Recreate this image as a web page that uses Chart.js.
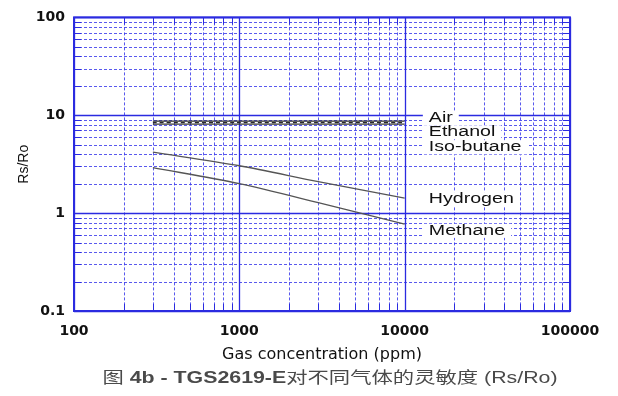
<!DOCTYPE html>
<html>
<head>
<meta charset="utf-8">
<script src="https://cdn.jsdelivr.net/npm/chart.js@4"></script>
<style>
  html, body { margin: 0; padding: 0; background: #fff; }
  #wrap { width: 618px; height: 396px; }
</style>
</head>
<body>
<div id="wrap"><canvas id="chart" width="618" height="396"></canvas></div>
<script>
/* ---- Data ---- */
const concentrations = [300, 1000, 3000, 10000];
const airRs       = [8.7, 8.7, 8.7, 8.7];
const ethanolRs   = [8.4, 8.4, 8.4, 8.4];
const isoButaneRs = [8.1, 8.1, 8.1, 8.1];
const hydrogenRs  = [4.2, 3.05, 2.1, 1.42];
const methaneRs   = [2.92, 2.0, 1.28, 0.77];

const gasNames   = ['Air', 'Ethanol', 'Iso-butane', 'Hydrogen', 'Methane'];
const labelRs    = [9.3, 6.7, 4.7, 1.39, 0.66];   // where each name sits on the y axis
const labelConc  = 14000;

const xTickLabels = [100, 1000, 10000, 100000];
const yTickLabels = [0.1, 1, 10, 100];

// caption pieces: [text, bold]
const captionParts = [['图 ', false], ['4b - TGS2619-E', true], ['对不同气体的灵敏度 ', false], ['(Rs/Ro)', false]];

const BLUE = '#2b2be0';
const FONT = "'Liberation Sans', Arial, sans-serif";
const WIDE = "'DejaVu Sans', sans-serif";

const toPoints = ys => concentrations.map((c, i) => ({ x: c, y: ys[i] }));

/* ---- Log grid: solid decades, dotted minors, short ticks on the frame ---- */
const logGrid = {
  id: 'logGrid',
  beforeDatasetsDraw(chart) {
    const { ctx, chartArea: a, scales: { x, y } } = chart;
    ctx.save();
    const steps = (scale) => {
      const out = [];
      const d0 = Math.round(Math.log10(scale.min));
      const d1 = Math.round(Math.log10(scale.max));
      for (let d = d0; d < d1; d++) {
        for (let m = 1; m <= 9; m++) out.push({ v: m * Math.pow(10, d), major: m === 1 });
      }
      out.push({ v: Math.pow(10, d1), major: true });
      return out;
    };
    const xs = steps(x), ys = steps(y);

    // dotted minors
    ctx.strokeStyle = 'rgba(60,60,235,0.85)';
    ctx.lineWidth = 1;
    ctx.setLineDash([3, 2]);
    xs.filter(t => !t.major).forEach(t => {
      const px = Math.round(x.getPixelForValue(t.v)) + 0.5;
      ctx.beginPath(); ctx.moveTo(px, a.top); ctx.lineTo(px, a.bottom); ctx.stroke();
    });
    ys.filter(t => !t.major).forEach(t => {
      const py = Math.round(y.getPixelForValue(t.v)) + 0.5;
      ctx.beginPath(); ctx.moveTo(a.left, py); ctx.lineTo(a.right, py); ctx.stroke();
    });

    // solid minor ticks on the frame
    ctx.setLineDash([]);
    ctx.strokeStyle = BLUE;
    const tl = 7;
    xs.filter(t => !t.major).forEach(t => {
      const px = Math.round(x.getPixelForValue(t.v)) + 0.5;
      ctx.beginPath();
      ctx.moveTo(px, a.bottom); ctx.lineTo(px, a.bottom - tl);
      ctx.moveTo(px, a.top); ctx.lineTo(px, a.top + tl);
      ctx.stroke();
    });
    ys.filter(t => !t.major).forEach(t => {
      const py = Math.round(y.getPixelForValue(t.v)) + 0.5;
      ctx.beginPath();
      ctx.moveTo(a.left, py); ctx.lineTo(a.left + tl, py);
      ctx.moveTo(a.right, py); ctx.lineTo(a.right - tl, py);
      ctx.stroke();
    });

    // solid decades
    ctx.lineWidth = 1.3;
    xs.filter(t => t.major).forEach(t => {
      const px = Math.round(x.getPixelForValue(t.v)) + 0.5;
      ctx.beginPath(); ctx.moveTo(px, a.top); ctx.lineTo(px, a.bottom); ctx.stroke();
    });
    ys.filter(t => t.major).forEach(t => {
      const py = Math.round(y.getPixelForValue(t.v)) + 0.5;
      ctx.beginPath(); ctx.moveTo(a.left, py); ctx.lineTo(a.right, py); ctx.stroke();
    });

    // frame
    ctx.lineWidth = 2;
    ctx.strokeRect(a.left, a.top, a.right - a.left, a.bottom - a.top);
    ctx.restore();
  }
};

/* ---- Gas names with white boxes behind (text is stretched wide like the scan) ---- */
const STRETCH = 1.4;
const gasLabels = {
  id: 'gasLabels',
  afterDatasetsDraw(chart) {
    const { ctx, scales: { x, y } } = chart;
    ctx.save();
    ctx.font = '14px ' + FONT;
    ctx.textBaseline = 'middle';
    ctx.textAlign = 'left';
    gasNames.forEach((name, i) => {
      const px = x.getPixelForValue(labelConc);
      const py = y.getPixelForValue(labelRs[i]);
      const w = ctx.measureText(name).width * STRETCH;
      ctx.fillStyle = '#fff';
      ctx.fillRect(px - 6, py - 7, w + 12, 14);
      ctx.save();
      ctx.translate(px, py);
      ctx.scale(STRETCH, 1);
      ctx.fillStyle = '#111';
      ctx.fillText(name, 0, 0);
      ctx.restore();
    });
    ctx.restore();
  }
};

/* ---- Figure caption under the axis title ---- */
const caption = {
  id: 'caption',
  afterDraw(chart) {
    const { ctx } = chart;
    const fam = "'Liberation Sans', 'Noto Sans CJK SC', sans-serif";
    const fontOf = bold => (bold ? 'bold ' : '') + '16px ' + fam;
    ctx.save();
    let total = 0;
    captionParts.forEach(([t, b]) => { ctx.font = fontOf(b); total += ctx.measureText(t).width; });
    const targetW = 455, cx = 330, cy = 379;
    const k = targetW / total;
    ctx.translate(cx - targetW / 2, cy);
    ctx.scale(k, 1);
    ctx.textBaseline = 'middle';
    ctx.fillStyle = '#4a4a4a';
    let xx = 0;
    captionParts.forEach(([t, b]) => {
      ctx.font = fontOf(b);
      ctx.fillText(t, xx, 0);
      xx += ctx.measureText(t).width;
    });
    ctx.restore();
  }
};

const lineStyle = (color, dash) => ({
  borderColor: color,
  borderWidth: 1.3,
  borderDash: dash || [],
  pointRadius: 0,
  fill: false,
  tension: 0.3,
});

new Chart(document.getElementById('chart'), {
  type: 'line',
  data: {
    datasets: [
      { label: 'Air',        data: toPoints(airRs),       ...lineStyle('#2a2a2a') },
      { label: 'Ethanol',    data: toPoints(ethanolRs),   ...lineStyle('#2a2a2a', [4, 3]) },
      { label: 'Iso-butane', data: toPoints(isoButaneRs), ...lineStyle('#3a3a3a') },
      { label: 'Hydrogen',   data: toPoints(hydrogenRs),  ...lineStyle('#555') },
      { label: 'Methane',    data: toPoints(methaneRs),   ...lineStyle('#555') },
    ]
  },
  options: {
    responsive: false,
    animation: false,
    layout: { padding: { top: 17, right: 48, bottom: 0, left: 0 } },
    plugins: {
      legend: { display: false },
      tooltip: { enabled: false },
      title: { display: false }
    },
    scales: {
      x: {
        type: 'logarithmic',
        min: 100,
        max: 100000,
        grid: { display: false, drawTicks: false },
        border: { display: false },
        ticks: {
          autoSkip: false,
          maxRotation: 0,
          padding: 12,
          color: '#111',
          font: { family: WIDE, size: 14, weight: 'bold' },
          callback: v => xTickLabels.includes(v) ? String(v) : ''
        },
        title: {
          display: true,
          text: 'Gas concentration (ppm)',
          color: '#111',
          font: { family: WIDE, size: 16 },
          padding: { top: 0, bottom: 32 }
        },
        afterFit(scale) { scale.height = 85; }
      },
      y: {
        type: 'logarithmic',
        min: 0.1,
        max: 100,
        grid: { display: false, drawTicks: false },
        border: { display: false },
        ticks: {
          autoSkip: false,
          padding: 9,
          color: '#111',
          font: { family: WIDE, size: 14, weight: 'bold' },
          callback: v => yTickLabels.includes(v) ? String(v) : ''
        },
        title: {
          display: true,
          text: 'Rs/Ro',
          color: '#111',
          font: { family: FONT, size: 14 },
          padding: { top: 16, bottom: 0 }
        },
        afterFit(scale) { scale.width = 74; }
      }
    }
  },
  plugins: [logGrid, gasLabels, caption]
});
</script>
</body>
</html>
